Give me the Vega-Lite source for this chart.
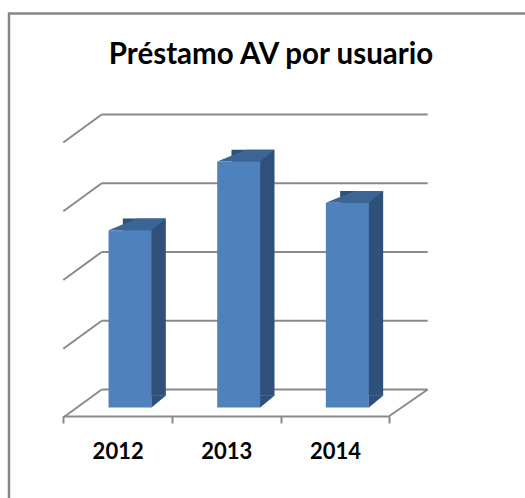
{
  "$schema": "https://vega.github.io/schema/vega-lite/v6.json",
  "width": 520,
  "height": 489,
  "autosize": {"type": "none"},
  "padding": {"left": 9, "top": 13.5, "right": 0, "bottom": 0},
  "background": "white",
  "title": {
    "text": "Préstamo AV por usuario",
    "font": "Lato",
    "fontWeight": "bold",
    "fontSize": 29.5,
    "color": "#000000",
    "anchor": "middle",
    "frame": "group",
    "baseline": "alphabetic",
    "offset": -80,
    "dx": 2
  },
  "config": {"view": {"stroke": "#878787", "strokeWidth": 2.5}},
  "datasets": {
    "bars": [
      {"year": "2012", "value": 2.58},
      {"year": "2013", "value": 3.58},
      {"year": "2014", "value": 2.98}
    ],
    "grid": [
      {"level": 0}, {"level": 1}, {"level": 2}, {"level": 3}, {"level": 4}
    ]
  },
  "layer": [
    {
      "data": {"name": "bars"},
      "mark": {"type": "bar", "width": 43, "color": "#2f5079", "xOffset": 26.7, "yOffset": -20.2, "y2Offset": -20.2, "opacity": 0},
      "encoding": {
        "x": {
          "field": "year",
          "type": "nominal",
          "scale": {"type": "band", "domain": ["2012", "2013", "2014"], "range": [54.3, 380.3], "paddingInner": 0, "paddingOuter": 0},
          "axis": {
            "title": null,
            "orient": "bottom",
            "offset": -86.5,
            "domainColor": "#8a8a8a",
            "domainWidth": 2,
            "tickBand": "extent",
            "tickSize": 7,
            "tickColor": "#8a8a8a",
            "tickWidth": 2,
            "labelAngle": 0,
            "labelFont": "Lato",
            "labelFontWeight": "bold",
            "labelFontSize": 22,
            "labelColor": "#000000",
            "labelPadding": 18,
            "grid": false
          }
        },
        "y": {
          "field": "value",
          "type": "quantitative",
          "scale": {"domain": [0, 4], "range": [402.5, 127.5], "nice": false, "zero": true},
          "axis": null
        }
      }
    },
    {
      "data": {"name": "grid"},
      "mark": {"type": "rule", "color": "#8a8a8a", "strokeWidth": 2, "xOffset": 38.4, "x2Offset": 38.4, "yOffset": -26.5, "y2Offset": -26.5},
      "encoding": {
        "x": {"datum": "2012", "type": "nominal", "bandPosition": 0},
        "x2": {"datum": "2014", "bandPosition": 1},
        "y": {"field": "level", "type": "quantitative"},
        "y2": {"field": "level"}
      }
    },
    {
      "data": {"name": "grid"},
      "mark": {"type": "rule", "color": "#8a8a8a", "strokeWidth": 2, "xOffset": 38.4, "x2Offset": 0, "yOffset": -26.5, "y2Offset": 1.5},
      "encoding": {
        "x": {"datum": "2012", "type": "nominal", "bandPosition": 0},
        "x2": {"datum": "2012", "bandPosition": 0},
        "y": {"field": "level", "type": "quantitative"},
        "y2": {"field": "level"}
      }
    },
    {
      "data": {"name": "grid"},
      "transform": [{"filter": "datum.level == 0"}],
      "mark": {"type": "rule", "color": "#8a8a8a", "strokeWidth": 2, "xOffset": 38.4, "x2Offset": 0, "yOffset": -26.5, "y2Offset": 0},
      "encoding": {
        "x": {"datum": "2014", "type": "nominal", "bandPosition": 1},
        "x2": {"datum": "2014", "bandPosition": 1},
        "y": {"field": "level", "type": "quantitative"},
        "y2": {"field": "level"}
      }
    },
    {
      "data": {"name": "bars"},
      "mark": {"type": "bar", "width": 43, "color": "#2f5079", "xOffset": 26.7, "yOffset": -20.2, "y2Offset": -20.2},
      "encoding": {
        "x": {"field": "year", "type": "nominal"},
        "y": {"field": "value", "type": "quantitative"}
      }
    },
    {
      "data": {"name": "bars"},
      "mark": {"type": "point", "filled": true, "opacity": 1, "strokeWidth": 0, "color": "#2f5079", "size": 6400, "xOffset": 12.4, "yOffset": -8.5,
        "shape": "M0.53,-0.3L0.53,0.005L0.9,-0.3Z"},
      "encoding": {
        "x": {"field": "year", "type": "nominal"},
        "y": {"datum": 0, "type": "quantitative"}
      }
    },
    {
      "data": {"name": "bars"},
      "mark": {"type": "point", "filled": true, "opacity": 1, "strokeWidth": 0, "color": "#3c6494", "size": 6400, "xOffset": 12.4, "yOffset": -8.5,
        "shape": "M-0.5375,0.005L0.5375,0.005L0.895,-0.2925L0.18,-0.2925Z"},
      "encoding": {
        "x": {"field": "year", "type": "nominal"},
        "y": {"field": "value", "type": "quantitative"}
      }
    },
    {
      "data": {"name": "bars"},
      "mark": {"type": "bar", "width": 43, "color": "#4f81bd", "xOffset": 12.4, "yOffset": -8.5, "y2Offset": -8.5},
      "encoding": {
        "x": {"field": "year", "type": "nominal"},
        "y": {"field": "value", "type": "quantitative"}
      }
    }
  ]
}
